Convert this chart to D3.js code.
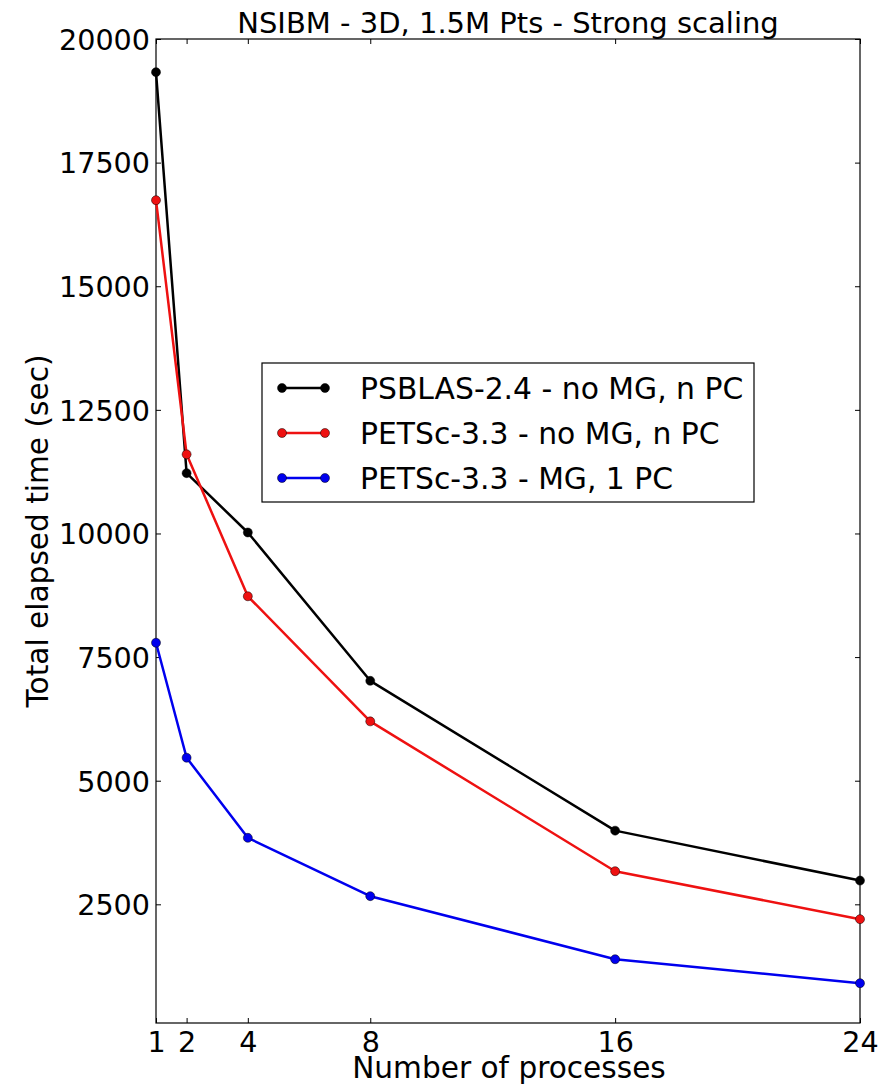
<!DOCTYPE html>
<html>
<head>
<meta charset="utf-8">
<script src="https://cdn.jsdelivr.net/npm/d3@7"></script>
<style>
  html, body { margin: 0; padding: 0; background: #fff; }
  svg { display: block; }
  text { font-family: "DejaVu Sans", sans-serif; fill: #000; }
</style>
</head>
<body>
<svg id="chart" width="879" height="1089"></svg>
<script>
// Strong scaling runs: number of processes vs total elapsed time (sec)
const processes = [1, 2, 4, 8, 16, 24];
const xTicks = [1, 2, 4, 8, 16, 24];
const yTicks = [2500, 5000, 7500, 10000, 12500, 15000, 17500, 20000];

const psblasNoMG = [19330, 11220, 10020, 7020, 3990, 2980];
const petscNoMG  = [16740, 11600, 8730, 6200, 3170, 2200];
const petscMG    = [7790, 5465, 3845, 2665, 1390, 905];

const seriesNames  = ["PSBLAS-2.4 - no MG, n PC", "PETSc-3.3 - no MG, n PC", "PETSc-3.3 - MG, 1 PC"];
const seriesColors = ["#000000", "#ee1111", "#0000ee"];
const seriesValues = [psblasNoMG, petscNoMG, petscMG];

const svg = d3.select("#chart");
const margin = { left: 156, right: 19, top: 39, bottom: 66 };
const W = 879, H = 1089;
const x0 = margin.left, x1 = W - margin.right;
const y0 = margin.top, y1 = H - margin.bottom;

const x = d3.scaleLinear().domain([1, 24]).range([x0, x1]);
const y = d3.scaleLinear().domain([100, 20000]).range([y1, y0]);

const tickFont = 28.6;
const titleFont = 29;
const labelFont = 29.6;
const legendFont = 29.8;
const tickLen = 5;

// Axes (inward ticks on all four sides)
const gx = svg.append("g").attr("transform", `translate(0,${y1})`)
  .call(d3.axisBottom(x).tickValues(xTicks).tickSize(-tickLen).tickPadding(29).tickFormat(d3.format("d")));
const gxTop = svg.append("g").attr("transform", `translate(0,${y0})`)
  .call(d3.axisTop(x).tickValues(xTicks).tickSize(-tickLen).tickFormat(""));
const gy = svg.append("g").attr("transform", `translate(${x0},0)`)
  .call(d3.axisLeft(y).tickValues(yTicks).tickSize(-tickLen).tickPadding(6).tickFormat(d3.format("d")));
const gyRight = svg.append("g").attr("transform", `translate(${x1},0)`)
  .call(d3.axisRight(y).tickValues(yTicks).tickSize(-tickLen).tickFormat(""));

[gx, gxTop, gy, gyRight].forEach(g => {
  g.select(".domain").remove();
  g.selectAll(".tick line").attr("stroke", "#000").attr("stroke-width", 1);
  g.selectAll(".tick text")
    .style("font-family", "DejaVu Sans, sans-serif")
    .style("font-size", tickFont + "px")
    .attr("fill", "#000");
});
gx.selectAll(".tick text").attr("dy", "0");
gy.selectAll(".tick text").attr("dy", "0.36em");

// Frame
svg.append("rect")
  .attr("x", x0).attr("y", y0)
  .attr("width", x1 - x0).attr("height", y1 - y0)
  .attr("fill", "none").attr("stroke", "#000").attr("stroke-width", 1.2);

// Series lines and markers
const line = d3.line().x((d, i) => x(processes[i])).y(d => y(d));
const plot = svg.append("g");
seriesValues.forEach((vals, s) => {
  plot.append("path")
    .datum(vals)
    .attr("d", line)
    .attr("fill", "none")
    .attr("stroke", seriesColors[s])
    .attr("stroke-width", 2.5)
    .attr("stroke-linejoin", "round");
  plot.selectAll(null)
    .data(vals)
    .enter().append("circle")
    .attr("cx", (d, i) => x(processes[i]))
    .attr("cy", d => y(d))
    .attr("r", 4.5)
    .attr("fill", seriesColors[s])
    .attr("stroke", "#000")
    .attr("stroke-width", 0.5);
});

// Title and axis labels
svg.append("text")
  .attr("x", (x0 + x1) / 2).attr("y", 33)
  .attr("text-anchor", "middle")
  .style("font-size", titleFont + "px")
  .text("NSIBM - 3D, 1.5M Pts - Strong scaling");

svg.append("text")
  .attr("x", (x0 + x1) / 2 + 1).attr("y", 1078)
  .attr("text-anchor", "middle")
  .style("font-size", labelFont + "px")
  .text("Number of processes");

svg.append("text")
  .attr("transform", `translate(48,${(y0 + y1) / 2}) rotate(-90)`)
  .attr("text-anchor", "middle")
  .style("font-size", labelFont + "px")
  .text("Total elapsed time (sec)");

// Legend
const lg = svg.append("g");
lg.append("rect")
  .attr("x", 262).attr("y", 363).attr("width", 492).attr("height", 139)
  .attr("fill", "#fff").attr("stroke", "#000").attr("stroke-width", 1.2);
seriesNames.forEach((name, s) => {
  const cy = 388 + s * 45;
  lg.append("line")
    .attr("x1", 282).attr("x2", 325).attr("y1", cy).attr("y2", cy)
    .attr("stroke", seriesColors[s]).attr("stroke-width", 2.5);
  [282, 325].forEach(cx => lg.append("circle")
    .attr("cx", cx).attr("cy", cy).attr("r", 4.5)
    .attr("fill", seriesColors[s]).attr("stroke", "#000").attr("stroke-width", 0.5));
  lg.append("text")
    .attr("x", 360).attr("y", cy).attr("dy", "0.36em")
    .style("font-size", legendFont + "px")
    .text(name);
});
</script>
</body>
</html>
